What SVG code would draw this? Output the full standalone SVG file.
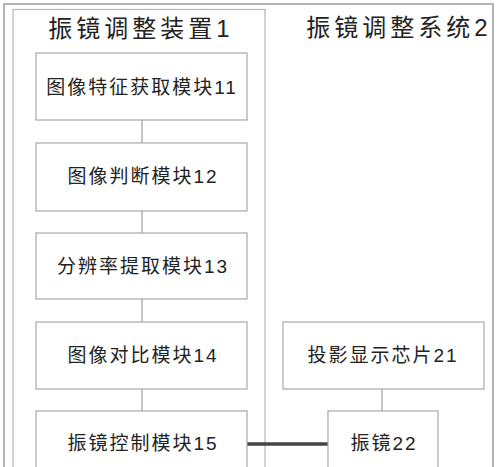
<svg xmlns="http://www.w3.org/2000/svg" width="500" height="467" viewBox="0 0 500 467">
<style>
.frame{fill:none;stroke:#b4b4b4;}
.box{fill:#fff;stroke:#a8a8a8;stroke-width:1.2;}
.lbl{font-family:"Liberation Sans","Noto Sans CJK SC",sans-serif;font-size:19px;fill:#222;text-anchor:middle;dominant-baseline:central;letter-spacing:2px;}
.title{font-family:"Liberation Sans","Noto Sans CJK SC",sans-serif;font-size:24px;fill:#222;text-anchor:middle;dominant-baseline:central;letter-spacing:4px;}
.thin{stroke:#a0a0a0;stroke-width:1.2;fill:none;}
.thick{stroke:#444;stroke-width:3.5;fill:none;}
</style>
<rect width="500" height="467" fill="#fff"/>
<g id="system2">
<rect class="frame" x="4" y="4" width="489" height="480" stroke-width="2"/>
<text class="title" x="399" y="27">振镜调整系统2</text>
</g>
<g id="device1">
<rect class="frame" x="13" y="9.5" width="252" height="475" stroke-width="1.2"/>
<text class="title" x="141" y="28">振镜调整装置1</text>
</g>
<g id="connectors">
<line class="thin" x1="142" y1="120" x2="142" y2="143"/>
<line class="thin" x1="142" y1="211" x2="142" y2="233"/>
<line class="thin" x1="142" y1="299" x2="142" y2="322"/>
<line class="thin" x1="142" y1="389" x2="142" y2="411"/>
<line class="thin" x1="382" y1="389" x2="382" y2="411"/>
<line class="thick" x1="247" y1="444" x2="328" y2="444"/>
</g>
<g id="m11">
<rect class="box" x="36" y="53" width="211" height="67"/>
<text class="lbl" x="142" y="87">图像特征获取模块11</text>
</g>
<g id="m12">
<rect class="box" x="36" y="143" width="211" height="68"/>
<text class="lbl" x="143" y="176">图像判断模块12</text>
</g>
<g id="m13">
<rect class="box" x="36" y="233" width="211" height="66"/>
<text class="lbl" x="143" y="266">分辨率提取模块13</text>
</g>
<g id="m14">
<rect class="box" x="36" y="322" width="211" height="67"/>
<text class="lbl" x="143" y="355">图像对比模块14</text>
</g>
<g id="m15">
<rect class="box" x="36" y="411" width="211" height="70"/>
<text class="lbl" x="143" y="443">振镜控制模块15</text>
</g>
<g id="m21">
<rect class="box" x="283" y="322" width="201" height="67"/>
<text class="lbl" x="383" y="355">投影显示芯片21</text>
</g>
<g id="m22">
<rect class="box" x="328" y="411" width="110" height="70"/>
<text class="lbl" x="384" y="443">振镜22</text>
</g>
</svg>
